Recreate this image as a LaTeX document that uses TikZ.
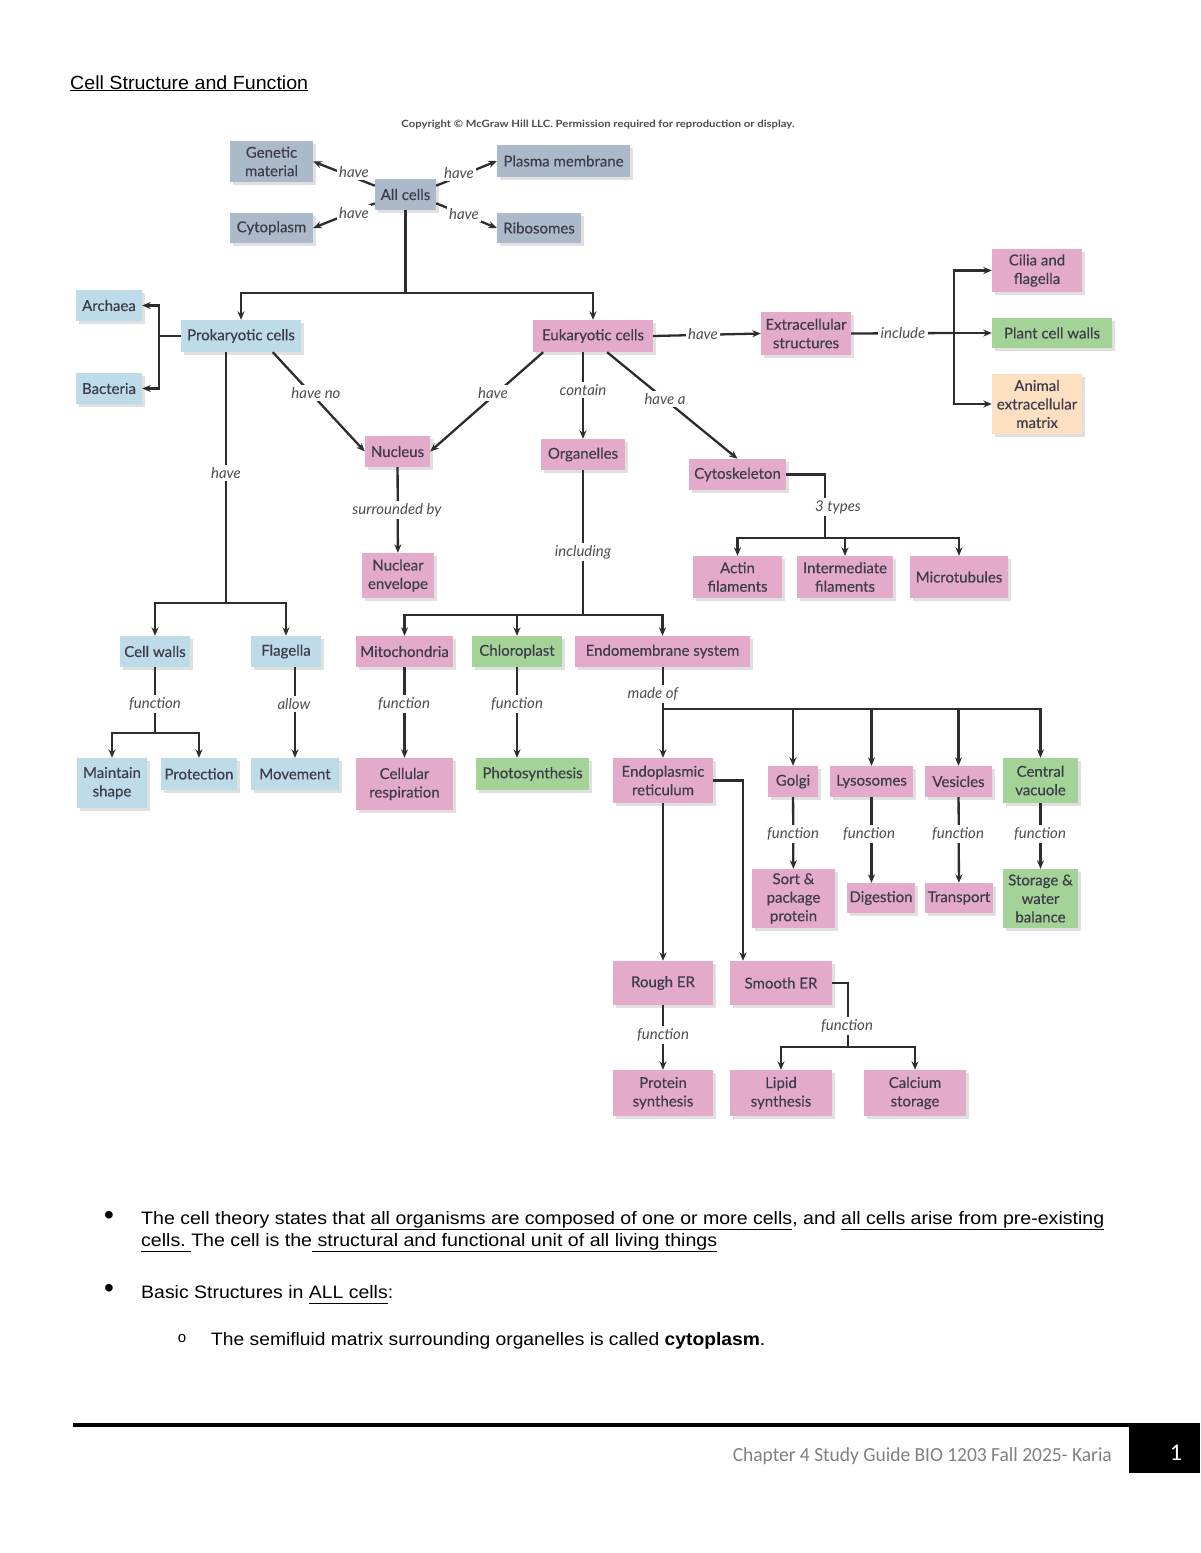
\documentclass[tikz,border=0pt]{standalone}
\usepackage{fontspec}
\usepackage{graphicx}
\setmainfont{Lato}
\newfontfamily\boxf{Lato}[FakeBold=0.3]
\newfontfamily\arialf{Liberation Sans}
\newfontfamily\calf{Carlito}
\usetikzlibrary{arrows.meta,shadows}
\definecolor{cgray}{RGB}{170,186,203}
\definecolor{cblue}{RGB}{190,219,234}
\definecolor{cpink}{RGB}{227,171,201}
\definecolor{cgreen}{RGB}{163,211,150}
\definecolor{cpeach}{RGB}{252,224,193}
\definecolor{ctext}{RGB}{62,60,74}
\definecolor{clbl}{RGB}{78,78,78}
\definecolor{cline}{RGB}{45,45,45}
\definecolor{cfoot}{RGB}{128,128,128}
\newcommand\fitw[2]{\resizebox{#1}{\height}{#2}}
\newcommand\myul[1]{\underline{\vphantom{gjpy}#1}}
\begin{document}
\begin{tikzpicture}[x=1pt,y=-1pt,
  boxbase/.style={rectangle, inner sep=0pt, align=center, text=ctext,
    font=\boxf\fontsize{15}{18.5}\selectfont,
    drop shadow={shadow xshift=3pt, shadow yshift=-3pt, fill=black!55, opacity=0.22}},
  bxgray/.style={boxbase, fill=cgray},
  bxblue/.style={boxbase, fill=cblue},
  bxpink/.style={boxbase, fill=cpink},
  bxgreen/.style={boxbase, fill=cgreen},
  bxpeach/.style={boxbase, fill=cpeach},
  sz/.style 2 args={minimum width=#1pt, minimum height=#2pt},
  lbl/.style={fill=white, inner sep=2.5pt, text=clbl, font=\itshape\fontsize{15}{17}\selectfont},
  conn/.style={draw=cline, line width=2.3pt},
  arr/.style={conn, -{Stealth[length=8.5pt,width=7pt]}}
]
\useasboundingbox (0,0) rectangle (1200,1553);

% ---------- title and copyright ----------
\node[anchor=base west, inner sep=0pt] (title) at (70,89)
  {\arialf\fontsize{19}{22}\selectfont\fitw{238pt}{\underline{Cell Structure and Function}}};
\node[inner sep=0pt, text=black!70] (copy) at (598,125)
  {\fontsize{10}{12}\selectfont\bfseries\fitw{393pt}{Copyright \textcopyright\ McGraw Hill LLC. Permission required for reproduction or display.}};

% ---------- boxes ----------
\node[bxgray, sz={83}{41}] (genetic) at (271.5,161.5) {Genetic\\material};
\node[bxgray, sz={83}{30}] (cytoplasm) at (271.5,228) {Cytoplasm};
\node[bxgray, sz={61}{31}] (allcells) at (405.5,194.5) {All cells};
\node[bxgray, sz={133}{32}] (plasma) at (563.5,161) {Plasma membrane};
\node[bxgray, sz={84}{30}] (ribosomes) at (539,228) {Ribosomes};

\node[bxblue, sz={66}{31}] (archaea) at (109,305.5) {Archaea};
\node[bxblue, sz={66}{31}] (bacteria) at (109,388.5) {Bacteria};
\node[bxblue, sz={120}{32}] (prok) at (241,336) {Prokaryotic cells};
\node[bxblue, sz={70}{31}] (cellwalls) at (155,651.5) {Cell walls};
\node[bxblue, sz={70}{31}] (flagella) at (286,651.5) {Flagella};
\node[bxblue, sz={70}{50}] (maintain) at (112,783) {Maintain\\shape};
\node[bxblue, sz={76}{32}] (protection) at (199,774) {Protection};
\node[bxblue, sz={88}{32}] (movement) at (295,774) {Movement};

\node[bxpink, sz={120}{32}] (euk) at (593,336) {Eukaryotic cells};
\node[bxpink, sz={90}{43}] (extra) at (806,333.5) {Extracellular\\structures};
\node[bxpink, sz={90}{43}] (cilia) at (1037,270.5) {Cilia and\\flagella};
\node[bxgreen, sz={120}{30}] (plantcw) at (1052,333) {Plant cell walls};
\node[bxpeach, sz={90}{60}] (animal) at (1037,404) {Animal\\extracellular\\matrix};
\node[bxpink, sz={65}{31}] (nucleus) at (397.5,451.5) {Nucleus};
\node[bxpink, sz={84}{31}] (organelles) at (583,454.5) {Organelles};
\node[bxpink, sz={97}{31}] (cytoskel) at (737.5,474.5) {Cytoskeleton};
\node[bxpink, sz={72}{45}] (nuclenv) at (398,575.5) {Nuclear\\envelope};
\node[bxpink, sz={89}{42}] (actin) at (737.5,577) {Actin\\filaments};
\node[bxpink, sz={96}{42}] (intermed) at (845,577) {Intermediate\\filaments};
\node[bxpink, sz={98}{42}] (microt) at (959,577) {Microtubules};
\node[bxpink, sz={97}{31}] (mito) at (404.5,651.5) {Mitochondria};
\node[bxgreen, sz={90}{31}] (chloro) at (517,651.5) {Chloroplast};
\node[bxpink, sz={175}{31}] (endomem) at (662.5,651.5) {Endomembrane system};
\node[bxpink, sz={97}{52}] (cellresp) at (404.5,784) {Cellular\\respiration};
\node[bxgreen, sz={113}{32}] (photo) at (532.5,774) {Photosynthesis};
\node[bxpink, sz={100}{45}] (er) at (663,780.5) {Endoplasmic\\reticulum};
\node[bxpink, sz={50}{31}] (golgi) at (793,781.5) {Golgi};
\node[bxpink, sz={83}{31}] (lyso) at (871.5,781.5) {Lysosomes};
\node[bxpink, sz={67}{31}] (vesicles) at (958.5,781.5) {Vesicles};
\node[bxgreen, sz={75}{45}] (centvac) at (1040.5,780.5) {Central\\vacuole};
\node[bxpink, sz={83}{59}] (sortpack) at (793.5,898.5) {Sort \&\\package\\protein};
\node[bxpink, sz={68}{30}] (digestion) at (881,898) {Digestion};
\node[bxpink, sz={68}{30}] (transport) at (959,898) {Transport};
\node[bxgreen, sz={75}{59}] (storage) at (1040.5,898.5) {Storage \&\\water\\balance};
\node[bxpink, sz={100}{44}] (rougher) at (663,983) {Rough ER};
\node[bxpink, sz={102}{44}] (smoother) at (781,983) {Smooth ER};
\node[bxpink, sz={100}{46}] (protsyn) at (663,1093) {Protein\\synthesis};
\node[bxpink, sz={102}{46}] (lipid) at (781,1093) {Lipid\\synthesis};
\node[bxpink, sz={102}{46}] (calcium) at (915,1093) {Calcium\\storage};

% ---------- branch points ----------
\coordinate (s1) at (405.5,293);
\coordinate (s2) at (159,336);
\coordinate (s3) at (226,603);
\coordinate (s4) at (954,333);
\coordinate (s5) at (583,615);
\coordinate (s6) at (825,538);
\coordinate (s7) at (155,733);
\coordinate (s8) at (663,709);
\coordinate (s9) at (743,780.5);
\coordinate (s10) at (848,1047);

% ---------- connectors ----------
\draw[arr] (allcells.164) -- (genetic.east);
\draw[arr] (allcells.196) -- (cytoplasm.east);
\draw[arr] (allcells.16) -- (plasma.west);
\draw[arr] (allcells.-16) -- (ribosomes.west);

\draw[conn] (allcells) -- (s1);
\draw[arr] (s1) -| (prok);
\draw[arr] (s1) -| (euk);

\draw[conn] (prok) -- (s2);
\draw[arr] (s2) |- (archaea);
\draw[arr] (s2) |- (bacteria);

\draw[conn] (prok.south -| s3) -- (s3);
\draw[arr] (s3) -| (cellwalls);
\draw[arr] (s3) -| (flagella);

\draw[arr] (prok.-27) -- (nucleus.west);
\draw[arr] (euk.198) -- (nucleus.east);
\draw[arr] (euk.south -| organelles) -- (organelles);
\draw[arr] (euk.-49) -- (cytoskel.north);
\draw[arr] (euk.east) -- (extra.west);

\draw[conn] (extra.east) -- (s4);
\draw[arr] (s4) |- (cilia);
\draw[arr] (s4) -- (plantcw);
\draw[arr] (s4) |- (animal);

\draw[arr] (nucleus) -- (nuclenv);

\draw[conn] (organelles) -- (s5);
\draw[arr] (s5) -| (mito);
\draw[arr] (s5) -| (chloro);
\draw[arr] (s5) -| (endomem);

\draw[conn] (cytoskel.east) -| (s6);
\draw[arr] (s6) -| (actin);
\draw[arr] (s6) -| (intermed);
\draw[arr] (s6) -| (microt);

\draw[conn] (cellwalls) -- (s7);
\draw[arr] (s7) -| (maintain);
\draw[arr] (s7) -| (protection);

\draw[arr] (flagella.south -| movement) -- (movement);
\draw[arr] (mito) -- (cellresp);
\draw[arr] (chloro) -- (chloro |- photo.north);

\draw[conn] (endomem.south -| s8) -- (s8);
\draw[arr] (s8) -- (er);
\draw[arr] (s8) -| (golgi);
\draw[arr] (s8) -| (lyso);
\draw[arr] (s8) -| (vesicles);
\draw[arr] (s8) -| (centvac);

\draw[arr] (er) -- (rougher);
\draw[arr] (er.east) -- (s9) -- (s9 |- smoother.north);

\draw[arr] (golgi) -- (sortpack);
\draw[arr] (lyso) -- (lyso |- digestion.north);
\draw[arr] (vesicles) -- (transport);
\draw[arr] (centvac) -- (storage);
\draw[arr] (rougher) -- (protsyn);

\draw[conn] (smoother.east) -| (s10);
\draw[arr] (s10) -| (lipid);
\draw[arr] (s10) -| (calcium);

% ---------- connector labels ----------
\node[lbl] (h1) at (354,172) {have};
\node[lbl] (h2) at (354,213) {have};
\node[lbl] (h3) at (459,173) {have};
\node[lbl] (h4) at (464,214) {have};
\node[lbl] (lprok) at (226,473) {have};
\node[lbl] (lhaveno) at (316,393) {have no};
\node[lbl] (lhavenuc) at (493,393) {have};
\node[lbl] (lcontain) at (583,390) {contain};
\node[lbl] (lhavea) at (665,399) {have a};
\node[lbl] (lhavex) at (703,334) {have};
\node[lbl] (linclude) at (903,333) {include};
\node[lbl] (lsurr) at (397,510) {surrounded by};
\node[lbl] (lincl) at (583,552) {including};
\node[lbl] (l3) at (838,507) {3 types};
\node[lbl] (lfcw) at (155,704) {function};
\node[lbl] (lallow) at (294,704) {allow};
\node[lbl] (lfmito) at (404,704) {function};
\node[lbl] (lfchl) at (517,704) {function};
\node[lbl] (lmade) at (653,694) {made of};
\node[lbl] (lfgol) at (793,834) {function};
\node[lbl] (lflys) at (869,834) {function};
\node[lbl] (lfves) at (958,834) {function};
\node[lbl] (lfcv) at (1040,834) {function};
\node[lbl] (lfrer) at (663,1035) {function};
\node[lbl] (lfser) at (847,1026) {function};

% ---------- text below ----------
\node[inner sep=0pt] (b1) at (109,1218) {\arialf\fontsize{28}{30}\selectfont •};
\node[anchor=base west, inner sep=0pt] (t1) at (141,1224)
  {\arialf\fontsize{18}{22}\selectfont\fitw{963pt}{The cell theory states that \myul{all organisms are composed of one or more cells}, and \myul{all cells arise from pre-existing}}};
\node[anchor=base west, inner sep=0pt] (t2) at (141,1246)
  {\arialf\fontsize{18}{22}\selectfont\fitw{576pt}{\myul{cells.\ }The cell is the\myul{\ structural and functional unit of all living things}}};
\node[inner sep=0pt] (b2) at (109,1291) {\arialf\fontsize{28}{30}\selectfont •};
\node[anchor=base west, inner sep=0pt] (t3) at (141,1298)
  {\arialf\fontsize{18}{22}\selectfont\fitw{252pt}{Basic Structures in \myul{ALL cells}:}};
\node[inner sep=0pt] (b3) at (182,1339) {\arialf\fontsize{15}{18}\selectfont o};
\node[anchor=base west, inner sep=0pt] (t4) at (211,1345)
  {\arialf\fontsize{18}{22}\selectfont\fitw{554pt}{The semifluid matrix surrounding organelles is called \textbf{cytoplasm}.}};

% ---------- footer ----------
\fill[black] (73,1423) rectangle (1129,1427);
\fill[black] (1129,1423) rectangle (1200,1473);
\node[anchor=base east, inner sep=0pt, text=cfoot] (foot) at (1112,1461)
  {\calf\fontsize{20}{24}\selectfont\fitw{379pt}{Chapter 4 Study Guide BIO 1203 Fall 2025- Karia}};
\node[anchor=base, inner sep=0pt, text=white] (pnum) at (1176,1460)
  {\calf\fontsize{24}{28}\selectfont 1};
\end{tikzpicture}
\end{document}
